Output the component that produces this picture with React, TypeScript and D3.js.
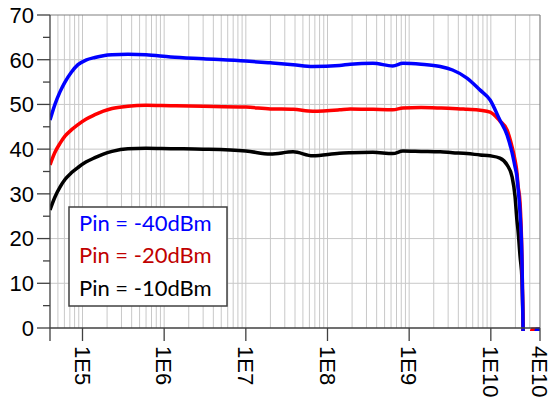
import React from "react";
import * as d3 from "d3";

const freqs = [
  4e4, 4.6e4, 5.3e4, 6.1e4, 7.3e4, 8.8e4, 1.1e5, 1.42e5, 1.8e5, 2.3e5, 3.6e5, 6e5,
  1.2e6, 3e6, 1e7, 2e7, 3.8e7, 6.6e7, 1.4e8, 1.9e8, 3.6e8, 6.3e8, 8.4e8, 1.4e9,
  2.4e9, 3.4e9, 5.1e9, 7.4e9, 9.8e9, 1.29e10, 1.58e10, 1.82e10, 1.98e10, 2.09e10,
  2.15e10, 2.28e10, 2.41e10, 2.48e10, 2.62e10, 3.19e10, 3.6e10, 4e10,
];

const pin40 = [
  46.5, 50.0, 52.8, 55.0, 57.2, 58.9, 59.9, 60.5, 60.9, 61.1, 61.2, 61.1,
  60.6, 60.2, 59.7, 59.3, 58.9, 58.5, 58.7, 59.0, 59.2, 58.6, 59.2, 59.0,
  58.5, 57.7, 55.9, 53.2, 51.0, 46.5, 43.2, 39.2, 36.0, 33.8,
  31.5, 25.7, 14.5, 0, -30, -30, -0.3, -0.3,
];

const pin20 = [
  36.5, 39.3, 41.3, 42.9, 44.3, 45.5, 46.7, 47.7, 48.5, 49.1, 49.6, 49.8,
  49.7, 49.6, 49.4, 49.0, 48.9, 48.5, 48.8, 49.0, 48.9, 48.8, 49.2, 49.3,
  49.2, 49.1, 48.9, 48.7, 48.3, 46.3, 44.3, 40.5, 37.5, 34.7,
  32.0, 28.0, 15.0, 0, -30, -0.3, -0.3, -0.3,
];

const pin10 = [
  26.4, 29.3, 31.5, 33.2, 34.7, 35.9, 37.1, 38.1, 38.9, 39.5, 40.1, 40.2,
  40.1, 40.0, 39.6, 38.9, 39.4, 38.5, 39.1, 39.2, 39.3, 39.0, 39.6, 39.5,
  39.4, 39.2, 39.0, 38.7, 38.5, 38.0, 36.5, 33.8, 29.4, 24.0,
  21.9, 16.0, 10.7, 0, -30, -30, -30, -30,
];

const yTicks = [0, 10, 20, 30, 40, 50, 60, 70];
const yMinor = [5, 15, 25, 35, 45, 55, 65];
const xTicks = [1e5, 1e6, 1e7, 1e8, 1e9, 1e10, 4e10];
const xTickLabels = ["1E5", "1E6", "1E7", "1E8", "1E9", "1E10", "4E10"];

const legendLabels = ["Pin = -40dBm", "Pin = -20dBm", "Pin = -10dBm"];
const legendColors = ["#0000ff", "#c00000", "#000000"];

export default function App() {
  const W = 548, H = 398;
  const left = 50, right = 540, top = 15, bottom = 328;
  const x = d3.scaleLog().domain([4e4, 4e10]).range([left, right]);
  const y = d3.scaleLinear().domain([0, 70]).range([bottom, top]);

  const grid: number[] = [];
  for (let d = 4; d <= 10; d++) {
    for (let k = 1; k <= 9; k++) {
      const v = k * Math.pow(10, d);
      if (v > 4e4 * 1.001 && v < 4e10 * 0.999) grid.push(v);
    }
  }

  const line = d3
    .line<number>()
    .x((_, i) => x(freqs[i]))
    .y((v) => y(v))
    .curve(d3.curveMonotoneX);

  const series = [
    { vals: pin10, color: "#000000" },
    { vals: pin20, color: "#ff0000" },
    { vals: pin40, color: "#0000ff" },
  ];

  return (
    <svg
      width={W}
      height={H}
      style={{ position: "absolute", left: 0, top: 0, background: "#fff" }}
      fontFamily="Liberation Sans, Arial, sans-serif"
    >
      <defs>
        <clipPath id="plotclip">
          <rect x={left} y={top} width={right - left} height={bottom - top + 3} />
        </clipPath>
      </defs>
      <rect x={0} y={0} width={W} height={H} fill="#fff" />
      {grid.map((v, i) => (
        <line key={"gv" + i} x1={x(v)} x2={x(v)} y1={top} y2={bottom} stroke="#c8c8c8" strokeWidth={1} />
      ))}
      {yTicks.slice(1, -1).map((v) => (
        <line key={"gh" + v} x1={left} x2={right} y1={y(v)} y2={y(v)} stroke="#c8c8c8" strokeWidth={1} />
      ))}
      <line x1={left} x2={right} y1={top} y2={top} stroke="#808080" strokeWidth={1.2} />
      <line x1={right} x2={right} y1={top} y2={bottom} stroke="#808080" strokeWidth={1.2} />

      <g clipPath="url(#plotclip)">
        {series.map((s, i) => (
          <path key={"s" + i} d={line(s.vals) || ""} fill="none" stroke={s.color} strokeWidth={3.5} strokeLinejoin="round" />
        ))}
      </g>

      <line x1={left} x2={left} y1={top} y2={bottom + 13} stroke="#404040" strokeWidth={1.3} />
      <line x1={left} x2={right} y1={bottom} y2={bottom} stroke="#404040" strokeWidth={1.3} />
      {yTicks.map((v) => (
        <line key={"yt" + v} x1={37} x2={left} y1={y(v)} y2={y(v)} stroke="#404040" strokeWidth={1.3} />
      ))}
      {yMinor.map((v) => (
        <line key={"ym" + v} x1={43} x2={left} y1={y(v)} y2={y(v)} stroke="#404040" strokeWidth={1.3} />
      ))}
      {yTicks.map((v) => (
        <text key={"yl" + v} x={34} y={y(v)} dy="0.36em" textAnchor="end" fontSize={22} fill="#000">
          {v}
        </text>
      ))}
      {xTicks.map((v, i) => (
        <g key={"xt" + i}>
          <line x1={x(v)} x2={x(v)} y1={bottom} y2={bottom + 13} stroke="#404040" strokeWidth={1.3} />
          <text
            transform={`translate(${x(v)},${bottom + 18}) rotate(90)`}
            dy="0.36em"
            textAnchor="start"
            fontSize={22}
            fill="#000"
          >
            {xTickLabels[i]}
          </text>
        </g>
      ))}

      <rect x={69} y={207} width={158} height={99} fill="#fff" stroke="#404040" strokeWidth={1.5} />
      {legendLabels.map((t, i) => (
        <text
          key={"lg" + i}
          x={79}
          y={230.5 + i * 32.7}
          fontSize={22}
          fontFamily="Lato, 'Open Sans', sans-serif"
          fill={legendColors[i]}
        >
          {t}
        </text>
      ))}
    </svg>
  );
}
